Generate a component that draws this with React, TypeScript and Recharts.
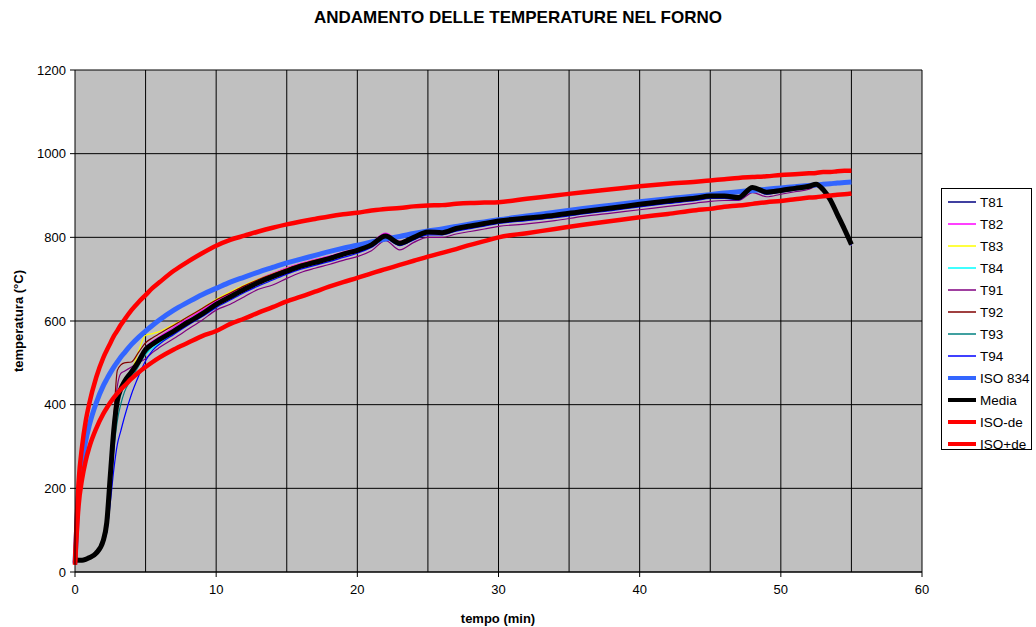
import { LineChart, Line, XAxis, YAxis, CartesianGrid, ReferenceLine } from 'recharts';

// time axis (min)
const minutes = [
  0, 0.25, 0.5, 0.75, 1, 1.5, 2, 2.25, 2.5, 2.75,
  3, 3.25, 3.5, 4, 4.5, 5, 5.5, 6, 7, 8,
  9, 10, 11, 12, 13, 14, 15, 16, 17, 18,
  19, 20, 21, 22, 23, 24, 25, 26, 27, 28,
  29, 30, 32, 34, 36, 38, 40, 42, 44, 45,
  46, 47, 48, 49, 50, 51, 52, 52.5, 53, 53.5,
  54, 54.5, 55,
];

// thermocouples (°C)
const t81 = [
  30, 28, 28, 30, 34, 45, 75, 115, 222, 332,
  402, 432, 452, 475, 500, 528, 542, 553, 573, 594,
  614, 637, 655, 673, 689, 703, 716, 728, 737, 746,
  757, 766, 779, 799, 784, 797, 810, 809, 818, 824,
  830, 836, 843, 850, 859, 867, 876, 884, 891, 896,
  896, 893, 916, 905, 910, 915, 920, 925, 912, 889,
  854, 819, 782,
];
const t82 = [
  30, 28, 28, 30, 34, 45, 76, 118, 228, 345,
  415, 440, 458, 483, 510, 538, 552, 563, 585, 606,
  626, 648, 666, 684, 700, 714, 727, 738, 747, 755,
  765, 774, 788, 810, 791, 804, 816, 814, 823, 829,
  835, 840, 847, 854, 863, 871, 880, 888, 895, 900,
  900, 897, 921, 909, 914, 919, 924, 928, 916, 891,
  856, 821, 784,
];
const t83 = [
  30, 28, 28, 30, 34, 45, 76, 116, 225, 340,
  405, 440, 462, 480, 528, 566, 570, 575, 592, 610,
  630, 652, 670, 686, 700, 713, 725, 736, 745, 753,
  763, 772, 786, 805, 790, 803, 815, 814, 823, 829,
  835, 840, 847, 854, 863, 871, 880, 888, 895, 900,
  900, 898, 922, 909, 914, 918, 923, 928, 915, 890,
  855, 820, 783,
];
const t84 = [
  30, 28, 28, 30, 34, 45, 74, 112, 215, 322,
  395, 428, 448, 470, 495, 520, 535, 548, 570, 592,
  614, 638, 656, 674, 690, 704, 717, 729, 738, 747,
  758, 767, 781, 800, 784, 798, 811, 810, 819, 825,
  831, 837, 844, 851, 860, 868, 877, 885, 892, 897,
  897, 893, 918, 906, 911, 916, 921, 926, 913, 889,
  854, 818, 780,
];
const t91 = [
  30, 28, 28, 30, 34, 45, 76, 118, 235, 365,
  445, 475, 480, 490, 500, 510, 525, 537, 558, 580,
  602, 626, 640, 658, 676, 686, 702, 716, 726, 735,
  745, 754, 768, 792, 770, 788, 800, 800, 808, 814,
  820, 826, 832, 840, 850, 858, 866, 874, 882, 886,
  888, 888, 907, 897, 903, 909, 915, 922, 910, 886,
  852, 818, 780,
];
const t92 = [
  30, 28, 28, 30, 34, 45, 76, 120, 240, 372,
  482, 495, 500, 502, 525, 548, 560, 570, 590, 610,
  630, 650, 667, 684, 699, 712, 725, 736, 745, 753,
  763, 772, 785, 805, 789, 802, 814, 812, 822, 828,
  834, 839, 846, 853, 862, 870, 879, 887, 894, 899,
  899, 896, 920, 908, 913, 918, 923, 927, 914, 890,
  855, 820, 783,
];
const t93 = [
  30, 28, 28, 30, 34, 45, 72, 105, 195, 292,
  362, 402, 430, 462, 492, 522, 540, 552, 574, 595,
  616, 640, 657, 675, 691, 705, 718, 730, 739, 748,
  759, 768, 782, 802, 786, 799, 812, 811, 820, 826,
  832, 838, 845, 852, 861, 869, 878, 886, 893, 898,
  898, 894, 919, 907, 912, 917, 922, 927, 914, 890,
  855, 820, 784,
];
const t94 = [
  30, 28, 28, 30, 34, 45, 70, 95, 165, 245,
  305, 338, 370, 425, 468, 505, 530, 545, 568, 590,
  610, 632, 650, 668, 684, 698, 712, 724, 733, 742,
  752, 762, 776, 796, 780, 794, 806, 806, 815, 821,
  827, 833, 840, 847, 856, 864, 873, 881, 888, 893,
  893, 890, 914, 903, 908, 913, 918, 924, 911, 888,
  853, 818, 782,
];

// reference curves
const iso834 = [
  20, 185, 261, 312, 349, 404, 445, 461, 476, 490,
  502, 514, 524, 544, 561, 576, 590, 603, 626, 645,
  663, 678, 693, 705, 717, 728, 739, 748, 757, 766,
  774, 781, 789, 796, 802, 809, 815, 820, 826, 832,
  837, 842, 851, 860, 869, 877, 885, 892, 899, 902,
  906, 909, 912, 915, 918, 921, 924, 925, 927, 928,
  930, 931, 932,
];
const media = [
  30, 28, 28, 30, 34, 45, 75, 118, 230, 340,
  410, 438, 455, 478, 503, 532, 545, 556, 576, 597,
  617, 640, 658, 676, 692, 706, 719, 731, 740, 749,
  760, 769, 782, 803, 786, 800, 813, 811, 821, 827,
  833, 839, 846, 853, 862, 870, 879, 887, 894, 899,
  899, 895, 919, 908, 912, 917, 922, 927, 914, 890,
  855, 820, 783,
];
const isoMinus = [
  17, 157, 222, 265, 297, 343, 378, 392, 405, 417,
  427, 437, 445, 462, 477, 490, 502, 513, 532, 548,
  564, 576, 593, 606, 620, 633, 647, 658, 670, 682,
  693, 703, 714, 724, 734, 744, 754, 763, 772, 782,
  791, 800, 810, 820, 830, 839, 848, 856, 865, 868,
  873, 876, 880, 884, 887, 891, 895, 896, 898, 900,
  902, 903, 905,
];
const isoPlus = [
  23, 213, 300, 359, 401, 465, 512, 530, 547, 564,
  577, 591, 603, 626, 645, 662, 679, 693, 720, 742,
  762, 780, 794, 804, 814, 823, 831, 838, 844, 850,
  855, 859, 864, 868, 870, 874, 876, 877, 880, 882,
  883, 884, 892, 900, 908, 915, 922, 928, 933, 936,
  939, 942, 944, 946, 949, 951, 953, 954, 956, 956,
  958, 959, 959,
];

const xTicks = [0, 10, 20, 30, 40, 50, 60];
const xGrid = [5, 10, 15, 20, 25, 30, 35, 40, 45, 50, 55, 60];
const yTicks = [0, 200, 400, 600, 800, 1000, 1200];

const series = [
  { key: 'T81', values: t81, color: '#000080', width: 1.2 },
  { key: 'T82', values: t82, color: '#ff00ff', width: 1.2 },
  { key: 'T83', values: t83, color: '#ffff00', width: 1.2 },
  { key: 'T84', values: t84, color: '#00ffff', width: 1.2 },
  { key: 'T91', values: t91, color: '#800080', width: 1.2 },
  { key: 'T92', values: t92, color: '#800000', width: 1.2 },
  { key: 'T93', values: t93, color: '#008080', width: 1.2 },
  { key: 'T94', values: t94, color: '#0000ff', width: 1.2 },
  { key: 'ISO 834', values: iso834, color: '#3366ff', width: 5 },
  { key: 'Media', values: media, color: '#000000', width: 5 },
  { key: 'ISO-de', values: isoMinus, color: '#ff0000', width: 4.5 },
  { key: 'ISO+de', values: isoPlus, color: '#ff0000', width: 4.5 },
];

const data = minutes.map((m, i) => {
  const row: Record<string, number> = { t: m };
  series.forEach((s) => {
    row[s.key] = s.values[i];
  });
  return row;
});

const FONT = '"Liberation Sans", Arial, sans-serif';

function ChartLegend() {
  return (
    <div
      style={{
        position: 'absolute',
        left: 941,
        top: 188,
        width: 91,
        height: 262,
        border: '1px solid #000',
        background: '#fff',
        boxSizing: 'border-box',
        paddingTop: 2,
      }}
    >
      {series.map((s) => (
        <div key={s.key} style={{ display: 'flex', alignItems: 'center', height: 22 }}>
          <svg width={34} height={10} style={{ marginLeft: 4 }}>
            <line x1={2} y1={5} x2={30} y2={5} stroke={s.color} strokeWidth={s.width > 2 ? 4 : 1.5} />
          </svg>
          <span style={{ fontSize: 13.5, color: '#000', fontFamily: FONT }}>{s.key}</span>
        </div>
      ))}
    </div>
  );
}

export default function App() {
  return (
    <div style={{ position: 'absolute', left: 0, top: 0, width: 1036, height: 627, background: '#fff', fontFamily: FONT }}>
      <div style={{ position: 'absolute', left: 0, top: 8, width: 1036, textAlign: 'center', fontSize: 17, fontWeight: 'bold' }}>
        ANDAMENTO DELLE TEMPERATURE NEL FORNO
      </div>
      <LineChart width={1036} height={627} data={data} margin={{ top: 70, right: 114, bottom: 25, left: 15 }}>
        <CartesianGrid vertical={false} stroke="#000" fill="#c0c0c0" fillOpacity={1} />
        {xGrid.map((g) => (
          <ReferenceLine key={g} x={g} stroke="#000" strokeWidth={1} />
        ))}
        <XAxis
          type="number"
          dataKey="t"
          domain={[0, 60]}
          ticks={xTicks}
          height={30}
          stroke="#000"
          tickSize={5}
          tickMargin={8}
          tick={{ fill: '#000', fontSize: 13, fontFamily: FONT }}
        />
        <YAxis
          domain={[0, 1200]}
          ticks={yTicks}
          width={60}
          stroke="#000"
          tickSize={5}
          tickMargin={4}
          tick={{ fill: '#000', fontSize: 13, fontFamily: FONT }}
        />
        {series.map((s) => (
          <Line
            key={s.key}
            type="monotone"
            dataKey={s.key}
            stroke={s.color}
            strokeWidth={s.width}
            dot={false}
            isAnimationActive={false}
          />
        ))}
      </LineChart>
      <div
        style={{
          position: 'absolute',
          left: 18,
          top: 321,
          transform: 'translate(-50%, -50%) rotate(-90deg)',
          fontSize: 13,
          fontWeight: 'bold',
          whiteSpace: 'nowrap',
        }}
      >
        temperatura (°C)
      </div>
      <div style={{ position: 'absolute', left: 0, top: 611, width: 996, textAlign: 'center', fontSize: 13, fontWeight: 'bold' }}>
        tempo (min)
      </div>
      <ChartLegend />
    </div>
  );
}
